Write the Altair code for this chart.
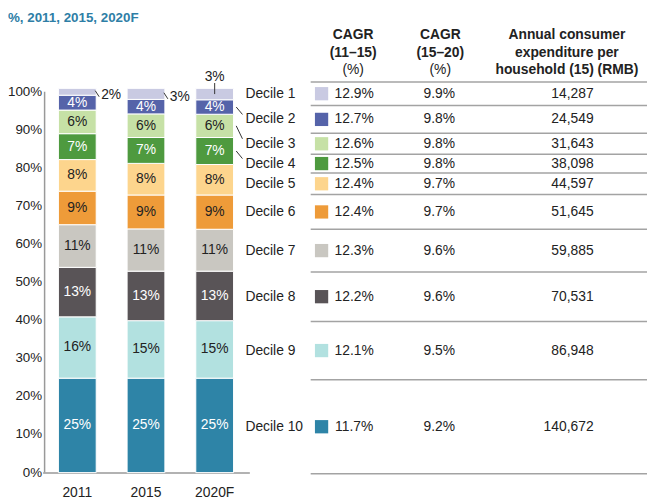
import altair as alt
import pandas as pd

# ---------------- data ----------------
years = ["2011", "2015", "2020F"]
deciles = [f"Decile {i}" for i in range(1, 11)]
share_2011 = [1.8, 3.9, 6.2, 6.8, 8.3, 8.8, 11.2, 13.0, 16.1, 24.8]
share_2015 = [2.9, 3.8, 6.2, 6.8, 8.3, 8.9, 11.1, 13.0, 15.1, 24.8]
share_2020 = [3.0, 3.8, 6.1, 7.1, 8.0, 9.0, 11.0, 13.0, 15.1, 24.8]
cagr_11_15 = ["12.9%", "12.7%", "12.6%", "12.5%", "12.4%", "12.4%", "12.3%", "12.2%", "12.1%", "11.7%"]
cagr_15_20 = ["9.9%", "9.8%", "9.8%", "9.8%", "9.7%", "9.7%", "9.6%", "9.6%", "9.5%", "9.2%"]
expenditure = [14287, 24549, 31643, 38098, 44597, 51645, 59885, 70531, 86948, 140672]
y_ticks = [0, 10, 20, 30, 40, 50, 60, 70, 80, 90, 100]
title_text = "%, 2011, 2015, 2020F"
head1 = ["CAGR", "(11–15)", "(%)"]
head2 = ["CAGR", "(15–20)", "(%)"]
head3 = ["Annual consumer", "expenditure per", "household (15) (RMB)"]

# ---------------- styles / layout ----------------
colors = ["#C9CAE2", "#5563A9", "#C6E1A6", "#4E9A3F", "#FDD58D",
          "#EE9B39", "#C9C7C1", "#595457", "#B2E1E0", "#2E84A7"]
white_label = ["Decile 2", "Decile 4", "Decile 8", "Decile 10"]
FONT = "Liberation Sans"
TXT = "#222222"
LINE = "#a3a3a3"
AXIS = "#999999"
row_edges = [102.6, 96.4, 89.1, 83.6, 78.7, 73.0, 63.9, 52.7, 39.7, 24.4, -0.3]
head_y = [114.8, 110.1, 105.7]
TITLE_Y = 121.2
W, H = 609, 385
X_TITLE, X_DEC, X_T0, X_T1 = -37, 203, 269, 609
X_SQ, X_C1, X_C2, X_C3, X_H3 = 280, 313, 399, 555, 528
X_YLAB = -2.5
BAND_RANGE, PAD_IN, PAD_OUT = [-2, 207], 0.45, 0.23

ysc = alt.Scale(domain=[0, 100], nice=False, zero=False)
xq = alt.Scale(domain=[0, W], nice=False, zero=False)
xband = alt.Scale(domain=years, range=BAND_RANGE, paddingInner=PAD_IN, paddingOuter=PAD_OUT)
cscale = alt.Scale(domain=deciles, range=colors)


def yf(field):
    return alt.Y(field, type="quantitative", scale=ysc, axis=None)


def xf(field):
    return alt.X(field, type="quantitative", scale=xq, axis=None)


# band geometry (same parameters as the band scale) for the annotation leaders
span = BAND_RANGE[1] - BAND_RANGE[0]
step = span / (len(years) - PAD_IN + 2 * PAD_OUT)
bw = step * (1 - PAD_IN)
bar_left = {yr: BAND_RANGE[0] + PAD_OUT * step + i * step for i, yr in enumerate(years)}
bar_right = {yr: bar_left[yr] + bw for yr in years}
bar_mid = {yr: bar_left[yr] + bw / 2 for yr in years}

# ---------------- tables ----------------
recs = []
for yr, shares in zip(years, [share_2011, share_2015, share_2020]):
    base = 0.0
    for d, s in reversed(list(zip(deciles, shares))):
        recs.append(dict(year=yr, decile=d, share=s, y0=base, y1=base + s,
                         mid=base + s / 2, label=f"{round(s)}%"))
        base += s
bars_df = pd.DataFrame(recs)

row_center = [(row_edges[i] + row_edges[i + 1]) / 2 for i in range(10)]
table_df = pd.DataFrame(dict(decile=deciles, yc=row_center, c1=cagr_11_15, c2=cagr_15_20,
                             c3=[f"{v:,}" for v in expenditure]))
table_df["xd"] = X_DEC
table_df["xs"] = X_SQ
table_df["x1"] = X_C1
table_df["x2"] = X_C2
table_df["x3"] = X_C3

sep_df = pd.DataFrame(dict(y=row_edges))
sep_df["xa"] = X_T0
sep_df["xb"] = X_T1

ytick_df = pd.DataFrame(dict(v=y_ticks, t=[f"{v}%" for v in y_ticks]))
ytick_df["x"] = X_YLAB
yline_df = pd.DataFrame(dict(ya=[min(y_ticks)], yb=[max(y_ticks)], x=[0]))

# annotation leaders and Decile 1 side labels
lead, side = [], []
for _, r in bars_df[bars_df.decile == "Decile 1"].iterrows():
    if r.year != "2020F":
        lead.append(dict(xa=bar_right[r.year] - 1, xb=bar_right[r.year] + 3,
                         ya=r.mid + 0.3, yb=r.mid - 1.3))
        side.append(dict(x=bar_right[r.year] + 5, y=r.mid - 0.8, t=r.label))
    else:
        lead.append(dict(xa=bar_mid[r.year], xb=bar_mid[r.year], ya=r.mid, yb=r.y1 + 1.4))
for d in ["Decile 2", "Decile 3", "Decile 4"]:
    r = bars_df[(bars_df.year == "2020F") & (bars_df.decile == d)].iloc[0]
    yc = table_df.loc[table_df.decile == d, "yc"].iloc[0]
    lead.append(dict(xa=bar_right["2020F"] + 2.7, xb=bar_right["2020F"] + 9, ya=r.mid, yb=yc + 1.3))
lead_df = pd.DataFrame(lead)
side_df = pd.DataFrame(side)

# ---------------- bars (band x scale) ----------------
base_bars = alt.Chart(bars_df)

bars = base_bars.mark_bar(stroke="white", strokeWidth=1).encode(
    x=alt.X("year:N", scale=xband,
            axis=alt.Axis(title=None, labelAngle=0, ticks=False, domainColor=AXIS,
                          domainWidth=1.5, labelFontSize=14, labelColor=TXT,
                          labelPadding=13, labelFont=FONT)),
    y=yf("y0"),
    y2="y1:Q",
    color=alt.Color("decile:N", scale=cscale, legend=None),
)

bar_labels = base_bars.transform_filter(alt.datum.decile != "Decile 1").mark_text(
    fontSize=14, font=FONT, baseline="middle").encode(
    x=alt.X("year:N", bandPosition=0.5), y=yf("mid"), text="label:N",
    color=alt.condition(alt.FieldOneOfPredicate(field="decile", oneOf=white_label),
                        alt.value("white"), alt.value(TXT)),
)

d1_top_text = base_bars.transform_filter(
    (alt.datum.decile == "Decile 1") & (alt.datum.year == "2020F")).mark_text(
    fontSize=14, font=FONT, align="center", baseline="middle", dy=-11, color=TXT).encode(
    x=alt.X("year:N", bandPosition=0.5), y=yf("y1"), text="label:N")

left = alt.layer(bars, bar_labels, d1_top_text)

# ---------------- y axis, annotations and table (linear x scale) ----------------
yline = alt.Chart(yline_df).mark_rule(color=AXIS, strokeWidth=1.5).encode(
    x=xf("x"), y=yf("ya"), y2="yb:Q")
ylabels = alt.Chart(ytick_df).mark_text(fontSize=13.5, font=FONT, color=TXT, align="right",
                                         baseline="middle").encode(
    x=xf("x"), y=yf("v"), text="t:N")

side_text = alt.Chart(side_df).mark_text(fontSize=14, font=FONT, color=TXT, align="left",
                                         baseline="middle").encode(
    x=xf("x"), y=yf("y"), text="t:N")

title = alt.Chart(pd.DataFrame(dict(t=[title_text], x=[X_TITLE], y=[TITLE_Y]))).mark_text(
    fontSize=13.5, font=FONT, fontWeight="bold", color="#2E7EA6", align="left",
    baseline="top").encode(x=xf("x"), y=yf("y"), text="t:N")

hdr_recs = []
for xc, lines in [(X_C1 - 1, head1), (X_C2 + 1, head2), (X_H3, head3)]:
    for i, (t, yy) in enumerate(zip(lines, head_y)):
        bold = "bold" if (i < 2 or lines is head3) else "normal"
        hdr_recs.append(dict(t=t, x=xc, y=yy, w=bold))
hdr_df = pd.DataFrame(hdr_recs)
hdr_bold = alt.Chart(hdr_df).transform_filter(alt.datum.w == "bold").mark_text(
    fontSize=14, font=FONT, fontWeight="bold", color=TXT, baseline="middle").encode(
    x=xf("x"), y=yf("y"), text="t:N")
hdr_norm = alt.Chart(hdr_df).transform_filter(alt.datum.w == "normal").mark_text(
    fontSize=14, font=FONT, color=TXT, baseline="middle").encode(
    x=xf("x"), y=yf("y"), text="t:N")

seps = alt.Chart(sep_df).mark_rule(color=LINE, strokeWidth=1.5).encode(
    x=xf("xa"), x2="xb:Q", y=yf("y"))

leaders = alt.Chart(lead_df).mark_rule(color="#333333", strokeWidth=1).encode(
    x=xf("xa"), x2="xb:Q", y=yf("ya"), y2="yb:Q")

tb = alt.Chart(table_df)
dec_labels = tb.mark_text(fontSize=14, font=FONT, color=TXT, align="left", baseline="middle").encode(
    x=xf("xd"), y=yf("yc"), text="decile:N")
squares = tb.mark_square(size=180, opacity=1).encode(
    x=xf("xs"), y=yf("yc"), color=alt.Color("decile:N", scale=cscale, legend=None))
col1 = tb.mark_text(fontSize=14, font=FONT, color=TXT, align="center", baseline="middle").encode(
    x=xf("x1"), y=yf("yc"), text="c1:N")
col2 = tb.mark_text(fontSize=14, font=FONT, color=TXT, align="center", baseline="middle").encode(
    x=xf("x2"), y=yf("yc"), text="c2:N")
col3 = tb.mark_text(fontSize=14, font=FONT, color=TXT, align="right", baseline="middle").encode(
    x=xf("x3"), y=yf("yc"), text="c3:N")

right = alt.layer(yline, ylabels, side_text, title, hdr_bold, hdr_norm, seps, leaders,
                  dec_labels, squares, col1, col2, col3)

chart = alt.layer(left, right).resolve_scale(x="independent", color="shared").properties(
    width=W, height=H,
    autosize=alt.AutoSizeParams(type="none"),
    padding={"left": 37, "top": 82, "right": 0, "bottom": 27},
).configure_view(stroke=None).configure_text(font=FONT)

chart.save("out.html", embed_options={"renderer": "svg", "actions": False})
